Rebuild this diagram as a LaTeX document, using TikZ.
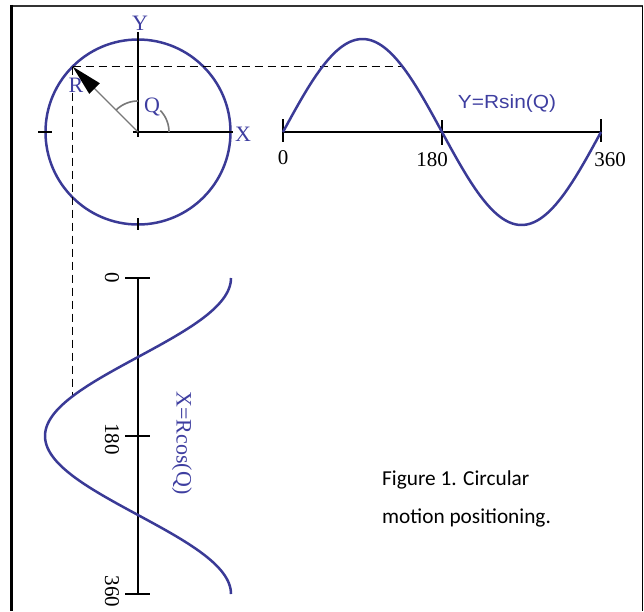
\documentclass[tikz,border=0pt]{standalone}
\usepackage{fontspec}
\setmainfont{Liberation Serif}
\newfontfamily\capfont{Carlito}
\newfontfamily\arialfont{Liberation Sans}
\usetikzlibrary{calc}
\definecolor{mblue}{RGB}{58,58,150}
\definecolor{lblue}{RGB}{62,62,160}
\definecolor{rgray}{RGB}{120,120,120}
\tikzset{
  curve/.style={draw=mblue, line width=2.5pt},
  axis/.style={draw=black, line width=1.4pt},
  tickmark/.style={draw=black, line width=1.4pt},
  dashline/.style={draw=black, line width=1.4pt, dash pattern=on 8pt off 5pt},
  lbl/.style={text=lblue, font=\fontsize{22}{24}\selectfont, inner sep=0pt},
  num/.style={text=black, font=\fontsize{21}{23}\selectfont, inner sep=0pt},
  captext/.style={text=black, font=\capfont\fontsize{21.3}{24}\selectfont, inner sep=0pt, anchor=base west},
}
\begin{document}
\begin{tikzpicture}[x=1pt, y=-1pt]
\useasboundingbox (0,0) rectangle (644,611);
% frame
\draw[line width=2.4pt, draw=black!80] (10,6) -- (643,6);
\draw[line width=1.7pt] (642.5,6) -- (642.5,611);
\draw[line width=3pt] (11,4.9) -- (11,611);
% circle
\coordinate (O) at (138,132);
\coordinate (R) at (72.6,66.6);
\draw[curve] (O) circle[radius=92.5pt];
\draw[axis] (138,32) -- (138,137);
\draw[axis] (133,132) -- (233,132);
\draw[tickmark] (38,132) -- (52,132);
\draw[tickmark] (138,218) -- (138,230);
% angle arcs
\draw[rgray, line width=1.6pt] plot[domain=90:135, samples=20] ({138+31*cos(\x)}, {132-31*sin(\x)});
\draw[rgray, line width=1.6pt] plot[domain=0:44, samples=20] ({138+31*cos(\x)}, {132-31*sin(\x)});
% radius with arrowhead
\draw[rgray, line width=1.1pt] (O) -- ($(R)!25pt!(O)$);
\fill[black] (R) -- ($(R)!31pt!(O)!7.5pt!90:(R)$) -- ($(R)!31pt!(O)!7.5pt!-90:(R)$) -- cycle;
% dashed projections
\coordinate (Sd) at (402,66.6);
\coordinate (Cd) at (72.6,396.5);
\draw[dashline] (R) -- (Sd);
\draw[dashline] (R) -- (Cd);
% labels on circle
\node[lbl] (ly) at (140,23) {Y};
\node[lbl] (lx) at (243,134) {X};
\node[lbl] (lr) at (76,85) {R};
\node[lbl] (lq) at (152,107) {Q};
% sine graph
\draw[axis] (283,132) -- (601,132);
\draw[tickmark] (283,119) -- (283,142);
\draw[tickmark] (442,120) -- (442,145);
\draw[tickmark] (601,119) -- (601,142);
\draw[curve] plot[domain=0:360, samples=120, smooth] ({283+\x/360*318}, {132-93*sin(\x)});
\node[num] (s0) at (283,158) {0};
\node[num] (s180) at (432,160) {180};
\node[num] (s360) at (610,160) {360};
\node[text=lblue, font=\arialfont\fontsize{19}{21}\selectfont, inner sep=0pt, anchor=base, xscale=1.1] (sinlbl) at (507,108) {Y=Rsin(Q)};
% cosine graph
\draw[axis] (138,278) -- (138,594);
\draw[tickmark] (125,278) -- (150,278);
\draw[tickmark] (125,436) -- (150,436);
\draw[tickmark] (125,594) -- (150,594);
\draw[curve] plot[domain=0:360, samples=120, smooth] ({138+93*cos(\x)}, {278+\x/360*316});
\node[num, rotate=-90] (c0) at (112,278) {0};
\node[num, rotate=-90] (c180) at (112,439) {180};
\node[num, rotate=-90] (c360) at (112,591.5) {360};
\node[text=lblue, font=\fontsize{22}{24}\selectfont, inner sep=0pt, rotate=-90] (coslbl) at (182,443) {X=Rcos(Q)};
% caption
\node[captext] (cap1) at (382,485) {Figure 1. Circular};
\node[captext] (cap2) at (382,523) {motion positioning.};
\end{tikzpicture}
\end{document}
